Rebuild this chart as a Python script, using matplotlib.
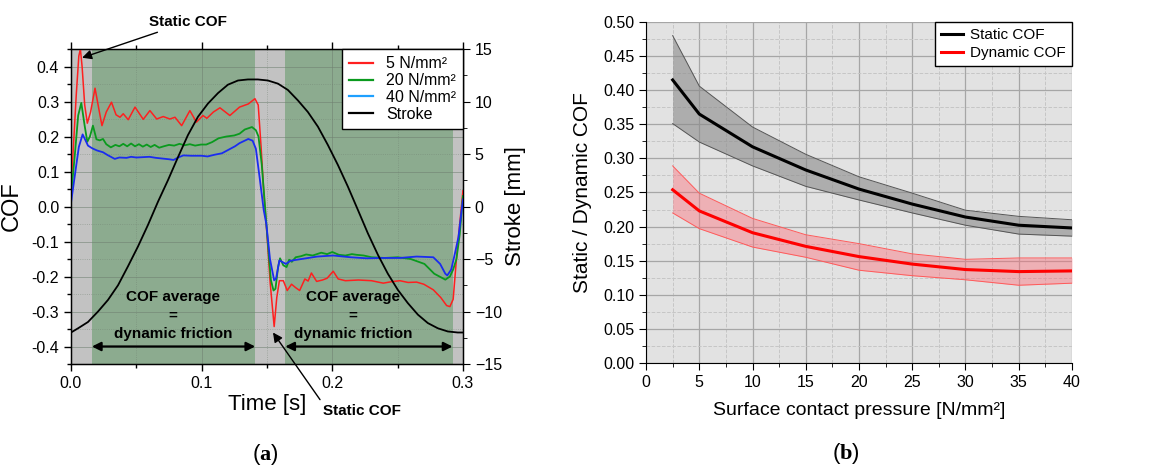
import matplotlib
matplotlib.use("Agg")
import matplotlib.pyplot as plt
from matplotlib.ticker import MultipleLocator, FormatStrFormatter
from matplotlib.lines import Line2D

plt.rcParams['font.family'] = ['Liberation Sans', 'DejaVu Sans']
plt.rcParams['mathtext.fontset'] = 'custom'
plt.rcParams['mathtext.rm'] = 'Liberation Serif'
plt.rcParams['mathtext.bf'] = 'Liberation Serif:bold'

# ---------------- Panel (a) data ----------------
t_red = [0.000, 0.002, 0.004, 0.006, 0.0072, 0.0085, 0.0105, 0.0125, 0.015, 0.0184,
         0.0215, 0.0237, 0.027, 0.031, 0.0345, 0.0375, 0.040, 0.0438, 0.049, 0.0553,
         0.0604, 0.0656, 0.0706, 0.0757, 0.0796, 0.0847, 0.091, 0.096, 0.101, 0.104,
         0.109, 0.114, 0.1216, 0.129, 0.1357, 0.1408, 0.1433, 0.1455, 0.1474, 0.150,
         0.1525, 0.1555, 0.1575, 0.1595, 0.1625, 0.1655, 0.1688, 0.172, 0.175, 0.179,
         0.1815, 0.184, 0.188, 0.1925, 0.196, 0.2007, 0.2045, 0.21, 0.22, 0.23,
         0.239, 0.245, 0.2517, 0.258, 0.2645, 0.27, 0.2773, 0.283, 0.2875, 0.290,
         0.2925, 0.295, 0.2975, 0.300]
cof_5 = [0.05, 0.18, 0.317, 0.43, 0.45, 0.40, 0.29, 0.238, 0.27, 0.338,
         0.275, 0.231, 0.27, 0.298, 0.262, 0.255, 0.265, 0.248, 0.284, 0.249,
         0.274, 0.25, 0.257, 0.25, 0.255, 0.231, 0.274, 0.241, 0.26, 0.252,
         0.27, 0.282, 0.26, 0.284, 0.293, 0.308, 0.29, 0.17, 0.05, -0.08,
         -0.22, -0.343, -0.26, -0.212, -0.212, -0.24, -0.222, -0.232, -0.24, -0.207,
         -0.213, -0.19, -0.214, -0.21, -0.205, -0.185, -0.207, -0.212, -0.21, -0.212,
         -0.219, -0.215, -0.212, -0.217, -0.216, -0.222, -0.238, -0.26, -0.283, -0.286,
         -0.265, -0.15, -0.05, 0.045]

t_green = [0.000, 0.003, 0.0055, 0.0079, 0.0105, 0.0125, 0.0145, 0.0168, 0.0195, 0.022,
           0.0245, 0.027, 0.0305, 0.034, 0.037, 0.040, 0.043, 0.046, 0.049, 0.052,
           0.055, 0.058, 0.061, 0.064, 0.0675, 0.071, 0.075, 0.079, 0.083, 0.087,
           0.091, 0.095, 0.0995, 0.1035, 0.108, 0.113, 0.119, 0.125, 0.129, 0.133,
           0.1385, 0.1415, 0.1435, 0.146, 0.1485, 0.151, 0.153, 0.155, 0.1565, 0.1585,
           0.160, 0.1625, 0.165, 0.167, 0.169, 0.172, 0.176, 0.180, 0.185, 0.1915,
           0.196, 0.200, 0.205, 0.210, 0.215, 0.2185, 0.224, 0.230, 0.240, 0.250,
           0.260, 0.2705, 0.278, 0.2865, 0.290, 0.2925, 0.295, 0.2975, 0.300]
cof_20 = [0.03, 0.15, 0.26, 0.296, 0.23, 0.185, 0.2, 0.231, 0.192, 0.189,
          0.193, 0.178, 0.169, 0.176, 0.172, 0.179, 0.172, 0.18, 0.172, 0.178,
          0.171, 0.177, 0.17, 0.176, 0.168, 0.172, 0.176, 0.174, 0.179, 0.175,
          0.178, 0.174, 0.177, 0.177, 0.184, 0.195, 0.2, 0.203, 0.208, 0.22,
          0.227, 0.218, 0.2, 0.12, 0.0, -0.12, -0.21, -0.24, -0.235, -0.173,
          -0.148, -0.168, -0.173, -0.152, -0.158, -0.145, -0.142, -0.137, -0.14, -0.132,
          -0.136, -0.13, -0.138, -0.14, -0.136, -0.138, -0.14, -0.145, -0.147, -0.145,
          -0.15, -0.164, -0.192, -0.209, -0.2, -0.18, -0.15, -0.08, 0.03]

t_blue = [0.000, 0.003, 0.006, 0.0089, 0.011, 0.013, 0.0155, 0.017, 0.020, 0.0245,
          0.028, 0.0335, 0.037, 0.0425, 0.046, 0.050, 0.055, 0.060, 0.065, 0.070,
          0.075, 0.0785, 0.082, 0.086, 0.092, 0.100, 0.1045, 0.110, 0.1155, 0.121,
          0.1255, 0.129, 0.1357, 0.139, 0.1415, 0.1445, 0.1475, 0.1495, 0.1523, 0.1555,
          0.157, 0.1595, 0.162, 0.1645, 0.168, 0.173, 0.1885, 0.2007, 0.214, 0.2263,
          0.239, 0.2517, 0.2645, 0.2773, 0.2825, 0.2865, 0.288, 0.291, 0.2935, 0.2965,
          0.300]
cof_40 = [0.01, 0.09, 0.17, 0.206, 0.19, 0.174, 0.168, 0.165, 0.16, 0.155,
          0.147, 0.136, 0.14, 0.139, 0.142, 0.14, 0.141, 0.142, 0.139, 0.137,
          0.135, 0.133, 0.14, 0.146, 0.145, 0.145, 0.143, 0.148, 0.152, 0.163,
          0.172, 0.181, 0.193, 0.188, 0.165, 0.079, -0.01, -0.05, -0.15, -0.211,
          -0.205, -0.154, -0.159, -0.164, -0.155, -0.152, -0.143, -0.14, -0.145, -0.148,
          -0.147, -0.147, -0.143, -0.145, -0.164, -0.192, -0.197, -0.18, -0.14, -0.088,
          0.02]

t_stroke = [0.000, 0.0054, 0.013, 0.0207, 0.0283, 0.036, 0.0436, 0.0513, 0.0589, 0.0666,
            0.0742, 0.0819, 0.0895, 0.0972, 0.1048, 0.1125, 0.1201, 0.1278, 0.1354, 0.143,
            0.1507, 0.1584, 0.166, 0.1737, 0.1813, 0.189, 0.1966, 0.2043, 0.2119, 0.2196,
            0.2272, 0.2349, 0.2425, 0.2502, 0.2578, 0.2655, 0.2731, 0.2808, 0.2884, 0.296,
            0.300]
stroke_mm = [-12.0, -11.6, -11.0, -10.0, -8.9, -7.5, -5.7, -3.8, -1.76, 0.46,
             2.5, 4.7, 6.8, 8.55, 9.8, 10.8, 11.6, 12.0, 12.1, 12.1,
             12.0, 11.7, 11.1, 10.1, 9.0, 7.6, 5.86, 3.95, 1.9, -0.33,
             -2.55, -4.6, -6.4, -7.95, -9.2, -10.3, -11.1, -11.6, -11.9, -12.0,
             -12.0]

series_labels_a = ['5 N/mm²', '20 N/mm²', '40 N/mm²', 'Stroke']
green_zones = [(0.016, 0.141), (0.164, 0.292)]

# ---------------- Panel (b) data ----------------
pressure = [2.5, 5, 10, 15, 20, 25, 30, 35, 40]
static_mean = [0.415, 0.365, 0.317, 0.283, 0.255, 0.233, 0.214, 0.202, 0.198]
static_upper = [0.480, 0.406, 0.346, 0.306, 0.273, 0.249, 0.224, 0.215, 0.210]
static_lower = [0.351, 0.324, 0.289, 0.259, 0.239, 0.220, 0.202, 0.189, 0.186]
dyn_mean = [0.254, 0.223, 0.191, 0.171, 0.156, 0.145, 0.137, 0.134, 0.135]
dyn_upper = [0.289, 0.249, 0.212, 0.188, 0.175, 0.160, 0.152, 0.154, 0.154]
dyn_lower = [0.220, 0.197, 0.170, 0.155, 0.136, 0.128, 0.122, 0.114, 0.117]

# ---------------- Figure ----------------
fig = plt.figure(figsize=(11.58, 4.68), dpi=100)

# ---- Panel (a) ----
ax = fig.add_axes([0.0613, 0.2222, 0.3385, 0.6731])
ax.set_xlim(0, 0.3)
ax.set_ylim(-0.45, 0.45)
ax.set_facecolor('#c2c2c2')
for a0, a1 in green_zones:
    ax.axvspan(a0, a1, color='#8cab8f', lw=0, zorder=0)

ax.xaxis.set_major_locator(MultipleLocator(0.1))
ax.xaxis.set_minor_locator(MultipleLocator(0.05))
ax.yaxis.set_major_locator(MultipleLocator(0.1))
ax.yaxis.set_minor_locator(MultipleLocator(0.05))
ax.xaxis.set_major_formatter(FormatStrFormatter('%.1f'))
ax.yaxis.set_major_formatter(FormatStrFormatter('%.1f'))
ax.grid(True, which='major', color='#6f7f70', lw=0.7, alpha=0.55, zorder=1)
ax.grid(True, which='minor', color='#6f7f70', lw=0.6, ls=':', alpha=0.55, zorder=1)
ax.set_axisbelow(True)
ax.tick_params(axis='both', which='both', direction='out', labelsize=11.5, width=1)
ax.tick_params(axis='x', which='both', top=True)
ax.tick_params(which='major', length=5)
ax.tick_params(which='minor', length=3)
for s in ax.spines.values():
    s.set_linewidth(1.0)

ax.plot(t_red, cof_5, color='#ff1f1f', lw=1.1, zorder=3)
ax.plot(t_green, cof_20, color='#0a9a1e', lw=1.3, zorder=3)
ax.plot(t_blue, cof_40, color='#1a2cf0', lw=1.3, zorder=3)
ax.set_xlabel('Time [s]', fontsize=16, labelpad=2)
ax.set_ylabel('COF', fontsize=17, labelpad=6)

ax2 = ax.twinx()
ax2.set_ylim(-15, 15)
ax2.yaxis.set_major_locator(MultipleLocator(5))
ax2.yaxis.set_minor_locator(MultipleLocator(2.5))
ax2.tick_params(axis='y', which='both', direction='out', labelsize=11.5)
ax2.tick_params(which='major', length=5)
ax2.tick_params(which='minor', length=3)
ax2.plot(t_stroke, stroke_mm, color='black', lw=1.3, zorder=4)
ax2.set_ylabel('Stroke [mm]', fontsize=16, labelpad=2)

handles = [Line2D([], [], color='#ff1f1f', lw=1.6),
           Line2D([], [], color='#0a9a1e', lw=1.6),
           Line2D([], [], color='#1ea0ff', lw=1.6),
           Line2D([], [], color='black', lw=1.6)]
leg = ax2.legend(handles, series_labels_a, loc='upper right', fontsize=11.5,
                 frameon=True, fancybox=False, edgecolor='black', framealpha=1,
                 borderaxespad=0.0, handlelength=1.5, handletextpad=0.8,
                 labelspacing=0.12, borderpad=0.45)
leg.get_frame().set_linewidth(1.0)

# annotations
ax.annotate('Static COF', xy=(0.0085, 0.425), xytext=(0.0595, 0.527),
            ha='left', va='center', fontsize=11, fontweight='bold',
            annotation_clip=False,
            arrowprops=dict(arrowstyle='-|>', color='black', lw=1.0,
                            mutation_scale=14, shrinkA=1, shrinkB=0))
ax.annotate('Static COF', xy=(0.1546, -0.36), xytext=(0.2225, -0.583),
            ha='center', va='center', fontsize=11, fontweight='bold',
            annotation_clip=False,
            arrowprops=dict(arrowstyle='-|>', color='black', lw=1.0,
                            mutation_scale=14, shrinkA=1, shrinkB=0,
                            relpos=(0.0, 1.0)))
for (a0, a1), tx in zip(green_zones, [0.078, 0.216]):
    ax.annotate('', xy=(a1, -0.40), xytext=(a0, -0.40),
                arrowprops=dict(arrowstyle='<|-|>', color='black', lw=1.6,
                                mutation_scale=13, shrinkA=0, shrinkB=0), zorder=5)
    ax.text(tx, -0.312, 'COF average\n=\ndynamic friction', ha='center', va='center',
            fontsize=11, fontweight='bold', linespacing=1.4, zorder=5)

fig.text(0.229, 0.028, r'($\mathbf{a}$)', ha='center', va='center', fontsize=16)

# ---- Panel (b) ----
bx = fig.add_axes([0.5579, 0.2244, 0.3678, 0.7286])
bx.set_xlim(0, 40)
bx.set_ylim(0, 0.5)
bx.set_facecolor('#e2e2e2')
bx.xaxis.set_major_locator(MultipleLocator(5))
bx.xaxis.set_minor_locator(MultipleLocator(2.5))
bx.yaxis.set_major_locator(MultipleLocator(0.05))
bx.yaxis.set_minor_locator(MultipleLocator(0.025))
bx.yaxis.set_major_formatter(FormatStrFormatter('%.2f'))
bx.grid(True, which='major', color='#a6a6a6', lw=0.9)
bx.grid(True, which='minor', color='#c6c6c6', lw=0.7, ls='--')
bx.set_axisbelow(True)
bx.spines['top'].set_visible(False)
bx.spines['right'].set_visible(False)
bx.tick_params(axis='both', which='both', direction='out', labelsize=11.5)
bx.tick_params(which='major', length=5)
bx.tick_params(which='minor', length=3)

bx.fill_between(pressure, static_lower, static_upper, color='#8a8a8a', alpha=0.6,
                lw=0, zorder=2)
bx.plot(pressure, static_upper, color='#555555', lw=0.7, zorder=2)
bx.plot(pressure, static_lower, color='#555555', lw=0.7, zorder=2)
bx.fill_between(pressure, dyn_lower, dyn_upper, color='#ff6b78', alpha=0.42,
                lw=0, zorder=2)
bx.plot(pressure, dyn_upper, color='#ff5a5a', lw=0.7, zorder=2)
bx.plot(pressure, dyn_lower, color='#ff5a5a', lw=0.7, zorder=2)
bx.plot(pressure, static_mean, color='black', lw=2.2, label='Static COF', zorder=3)
bx.plot(pressure, dyn_mean, color='#ff0000', lw=2.2, label='Dynamic COF', zorder=3)

bx.set_xlabel('Surface contact pressure [N/mm²]', fontsize=14, labelpad=9)
bx.set_ylabel('Static / Dynamic COF', fontsize=15, labelpad=8)
leg2 = bx.legend(loc='upper right', fontsize=11,
                 frameon=True, fancybox=False,
                 edgecolor='black', framealpha=1, borderaxespad=0.0,
                 handlelength=1.4, handletextpad=0.5, labelspacing=0.25, borderpad=0.4)
leg2.get_frame().set_linewidth(1.0)

fig.text(0.7305, 0.032, r'($\mathbf{b}$)', ha='center', va='center', fontsize=16)

fig.savefig('out.png', dpi=100)
